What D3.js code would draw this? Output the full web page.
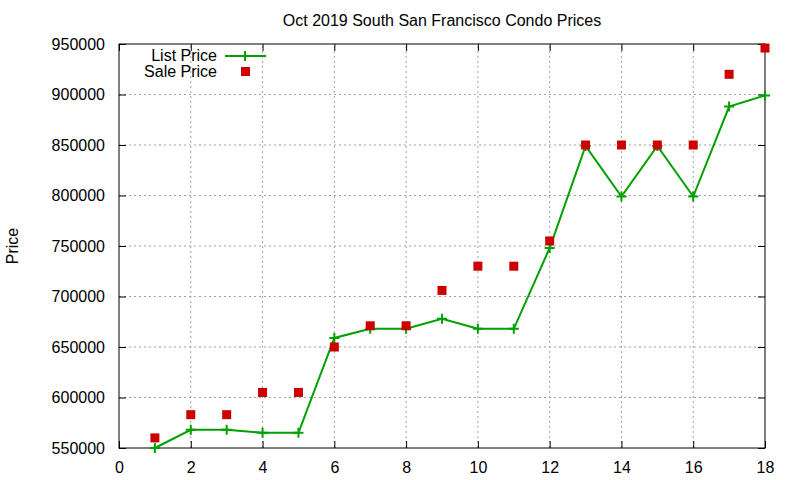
<!DOCTYPE html>
<html>
<head>
<meta charset="utf-8">
<script src="https://cdn.jsdelivr.net/npm/d3@7"></script>
<style>
  body { margin: 0; background: #fff; }
  text { font-family: "Liberation Sans", Arial, sans-serif; }
</style>
</head>
<body>
<svg id="chart"></svg>
<script>
// Data
const listings = [1, 2, 3, 4, 5, 6, 7, 8, 9, 10, 11, 12, 13, 14, 15, 16, 17, 18];
const listPrice = [550000, 568000, 568000, 565000, 565000, 659000, 668000, 668000, 678000,
    668000, 668000, 748000, 849000, 799000, 849000, 799000, 888000, 899000];
const salePrice = [560000, 583000, 583000, 605000, 605000, 650000, 671000, 671000, 706000,
    730000, 730000, 755000, 850000, 850000, 850000, 850000, 920000, 946000];
const xTicks = [0, 2, 4, 6, 8, 10, 12, 14, 16, 18];
const yTicks = [550000, 600000, 650000, 700000, 750000, 800000, 850000, 900000, 950000];

let width = 800;
let height = 480;
let margin = { top: 44, right: 35, bottom: 32, left: 119 };

let svg = d3.select("#chart")
    .attr("width", width)
    .attr("height", height);

let xScale = d3.scaleLinear()
    .domain([0, 18])
    .range([margin.left, width - margin.right]);

let yScale = d3.scaleLinear()
    .domain([550000, 950000])
    .range([height - margin.bottom, margin.top]);

const green = "#00a000";
const red = "#cc0000";

// Grid
svg.append("g")
    .selectAll("line")
    .data(xTicks.slice(1, -1))
    .enter().append("line")
    .attr("x1", d => xScale(d)).attr("x2", d => xScale(d))
    .attr("y1", yScale.range()[0]).attr("y2", yScale.range()[1])
    .attr("stroke", "#a0a0a0").attr("stroke-dasharray", "2,3");

svg.append("g")
    .selectAll("line")
    .data(yTicks.slice(1, -1))
    .enter().append("line")
    .attr("x1", xScale.range()[0]).attr("x2", xScale.range()[1])
    .attr("y1", d => yScale(d)).attr("y2", d => yScale(d))
    .attr("stroke", "#a0a0a0").attr("stroke-dasharray", "2,3");

// Axes (gnuplot style: inner ticks, mirrored)
function styleAxis(g) {
    g.select(".domain").remove();
    g.selectAll("line").attr("stroke", "#000");
    g.selectAll("text").attr("font-size", 16).attr("fill", "#000");
}

svg.append("g")
    .attr("transform", `translate(0, ${height - margin.bottom})`)
    .call(d3.axisBottom(xScale).tickValues(xTicks).tickSizeInner(-7).tickSizeOuter(0).tickPadding(14))
    .call(styleAxis);

svg.append("g")
    .attr("transform", `translate(0, ${margin.top})`)
    .call(d3.axisTop(xScale).tickValues(xTicks).tickSizeInner(-7).tickSizeOuter(0).tickFormat(""))
    .call(styleAxis);

svg.append("g")
    .attr("transform", `translate(${margin.left}, 0)`)
    .call(d3.axisLeft(yScale).tickValues(yTicks).tickSizeInner(-7).tickSizeOuter(0).tickPadding(14).tickFormat(d3.format("d")))
    .call(styleAxis);

svg.append("g")
    .attr("transform", `translate(${width - margin.right}, 0)`)
    .call(d3.axisRight(yScale).tickValues(yTicks).tickSizeInner(-7).tickSizeOuter(0).tickFormat(""))
    .call(styleAxis);

// Border
svg.append("rect")
    .attr("x", margin.left).attr("y", margin.top)
    .attr("width", width - margin.left - margin.right)
    .attr("height", height - margin.top - margin.bottom)
    .attr("fill", "none").attr("stroke", "#000").attr("stroke-width", 1);

// Labels
svg.append("text")
    .attr("x", (margin.left + width - margin.right) / 2)
    .attr("y", 26)
    .attr("text-anchor", "middle")
    .attr("font-size", 16)
    .text("Oct 2019 South San Francisco Condo Prices");

svg.append("text")
    .attr("transform", "rotate(-90)")
    .attr("x", -246)
    .attr("y", 18)
    .attr("text-anchor", "middle")
    .attr("font-size", 16)
    .text("Price");

// List price line
const line = d3.line()
    .x((d, i) => xScale(listings[i]))
    .y(d => yScale(d));

svg.append("path")
    .datum(listPrice)
    .attr("d", line)
    .attr("fill", "none")
    .attr("stroke", green)
    .attr("stroke-width", 2);

svg.append("g")
    .selectAll("path")
    .data(listPrice)
    .enter().append("path")
    .attr("d", (d, i) => {
        const x = xScale(listings[i]), y = yScale(d);
        return `M${x - 5},${y}H${x + 5}M${x},${y - 5}V${y + 5}`;
    })
    .attr("stroke", green)
    .attr("stroke-width", 2);

// Sale price points
svg.append("g")
    .selectAll("rect")
    .data(salePrice)
    .enter().append("rect")
    .attr("x", (d, i) => xScale(listings[i]) - 4.5)
    .attr("y", d => yScale(d) - 4.5)
    .attr("width", 9)
    .attr("height", 9)
    .attr("fill", red);

// Legend
let legend = svg.append("g");
legend.append("text")
    .attr("x", 217).attr("y", 61)
    .attr("text-anchor", "end").attr("font-size", 16)
    .text("List Price");
legend.append("path")
    .attr("d", "M225,56H266M245,51V61")
    .attr("stroke", green).attr("stroke-width", 2);
legend.append("text")
    .attr("x", 217).attr("y", 77)
    .attr("text-anchor", "end").attr("font-size", 16)
    .text("Sale Price");
legend.append("rect")
    .attr("x", 241).attr("y", 67).attr("width", 9).attr("height", 9)
    .attr("fill", red);
</script>
</body>
</html>
